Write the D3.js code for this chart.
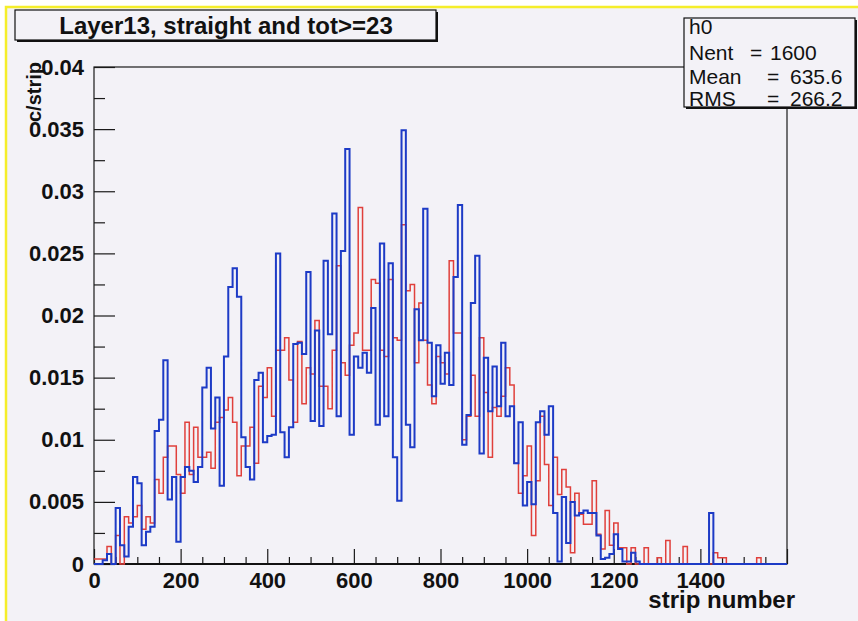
<!DOCTYPE html>
<html>
<head>
<meta charset="utf-8">
<script src="https://cdn.jsdelivr.net/npm/d3@7"></script>
<style>
	body { margin: 0; background: #ffffff; }
	svg { display: block; font-family: 'Liberation Sans', Arial, Helvetica, sans-serif; }
</style>
</head>
<body>
<div id="chart"></div>
<script>
// Histogram contents, 160 bins of 10 strips each (0 - 1600)
const binWidth = 10;
const xRange = [0, 1600];
const yRange = [0, 0.04];

// blue histogram
const blueCounts = [
	0, 0, 0.0003, 0.0008, 0, 0.0045, 0.0015, 0.0006, 0.003, 0.007,
	0.0065, 0.0015, 0.0026, 0.003, 0.0107, 0.0116, 0.0164, 0.0052, 0.007, 0.0018,
	0.007, 0.0078, 0.0075, 0.0066, 0.0078, 0.0142, 0.0158, 0.0109, 0.0134, 0.0063,
	0.0167, 0.0223, 0.0238, 0.0215, 0.0102, 0.0078, 0.0068, 0.0148, 0.0154, 0.0098,
	0.0103, 0.0104, 0.025, 0.0106, 0.0086, 0.011, 0.0177, 0.0178, 0.0169, 0.0235,
	0.0115, 0.0188, 0.0111, 0.0244, 0.0185, 0.0282, 0.0119, 0.0252, 0.0334, 0.0104,
	0.0167, 0.0158, 0.017, 0.0154, 0.0206, 0.0112, 0.0258, 0.0119, 0.0242, 0.0086,
	0.0051, 0.0349, 0.0112, 0.0094, 0.0205, 0.018, 0.0286, 0.0178, 0.0135, 0.0176,
	0.0145, 0.017, 0.0144, 0.0231, 0.0289, 0.0096, 0.012, 0.021, 0.0248, 0.0089,
	0.0166, 0.0123, 0.0159, 0.0127, 0.0178, 0.0119, 0.0127, 0.0081, 0.0114, 0.0047,
	0.0066, 0.0048, 0.0114, 0.0123, 0.0104, 0.0127, 0.0041, 0.0002, 0.0054, 0.0017,
	0.005, 0.0039, 0.0041, 0.0043, 0.0041, 0.0041, 0.0023, 0.0004, 0.0005, 0.0008,
	0.0024, 0.0012, 0.0002, 0.0002, 0.0009, 0.0002, 0, 0, 0, 0,
	0, 0, 0, 0, 0, 0, 0, 0, 0, 0,
	0, 0, 0.0041, 0, 0, 0, 0, 0, 0, 0,
	0, 0, 0, 0, 0, 0, 0, 0, 0, 0
];

// red histogram
const redCounts = [
	0.0004, 0.0004, 0.0004, 0.0014, 0, 0.0023, 0, 0.0038, 0.0033, 0.0038,
	0.0047, 0.0028, 0.0038, 0.0033, 0.0068, 0.0057, 0.0086, 0.0095, 0.0095, 0.0072,
	0.0057, 0.0114, 0.0072, 0.011, 0.0086, 0.0086, 0.009, 0.0077, 0.0114, 0.0118,
	0.0124, 0.0134, 0.0114, 0.0071, 0.0095, 0.0095, 0.011, 0.0081, 0.0143, 0.0134,
	0.0158, 0.0119, 0.0172, 0.0172, 0.0182, 0.0148, 0.0114, 0.0179, 0.0129, 0.0158,
	0.0153, 0.0196, 0.0143, 0.0143, 0.0125, 0.0172, 0.024, 0.0162, 0.0152, 0.0176,
	0.0186, 0.0287, 0.0172, 0.0172, 0.0229, 0.0226, 0.0172, 0.0167, 0.0229, 0.0182,
	0.018, 0.0273, 0.022, 0.0225, 0.0162, 0.021, 0.018, 0.0144, 0.0129, 0.0167,
	0.0162, 0.0153, 0.0244, 0.0186, 0.0186, 0.01, 0.0119, 0.0152, 0.0119, 0.0182,
	0.0138, 0.0086, 0.0126, 0.0119, 0.0135, 0.0158, 0.0144, 0.0081, 0.0057, 0.0071,
	0.0095, 0.0023, 0.0067, 0.0119, 0.008, 0.0047, 0.0086, 0.0056, 0.0076, 0.0062,
	0.0009, 0.0057, 0.004, 0.0032, 0.0032, 0.0067, 0.0024, 0.0012, 0.0043, 0.0015,
	0.0033, 0.0013, 0.0013, 0, 0.0013, 0, 0, 0.0013, 0, 0,
	0.0005, 0, 0.0019, 0, 0, 0, 0.0014, 0, 0, 0,
	0, 0, 0, 0.0009, 0.0005, 0.0005, 0, 0, 0, 0,
	0, 0, 0, 0.0005, 0, 0, 0, 0, 0, 0
];

// axis ticks
const xMajorTicks = [0, 200, 400, 600, 800, 1000, 1200, 1400, 1600];
const xLabelled = [0, 200, 400, 600, 800, 1000, 1200, 1400];
const yMajorTicks = [0, 0.005, 0.01, 0.015, 0.02, 0.025, 0.03, 0.035, 0.04];
const yLabels = ['0', '0.005', '0.01', '0.015', '0.02', '0.025', '0.03', '0.035', '0.04'];

// texts
const title = 'Layer13, straight and tot>=23';
const xTitle = 'strip number';
const yTitle = 'c/strip';
const statsName = 'h0';
const statsRows = [['Nent', '1600'], ['Mean', '635.6'], ['RMS', '266.2']];

// Chart dimensions
const width = 858;
const height = 621;
const marginTop = 67;
const marginRight = 71;
const marginBottom = 57;
const marginLeft = 94;
const bg = '#f3f2f7';
const blueColor = '#1d3bc6';
const redColor = '#e0403c';

const svg = d3.select('#chart')
	.append('svg')
	.attr('width', width)
	.attr('height', height);

// pad background with yellow border on top / left
svg.append('rect')
	.attr('x', 5).attr('y', 6)
	.attr('width', width - 5).attr('height', height - 6)
	.attr('fill', bg);
svg.append('path')
	.attr('d', `M6,${height} V7 H${width}`)
	.attr('fill', 'none')
	.attr('stroke', '#f5ee2a')
	.attr('stroke-width', 2.5);

const x = d3.scaleLinear().domain(xRange).range([marginLeft, width - marginRight]);
const y = d3.scaleLinear().domain(yRange).range([height - marginBottom, marginTop]);

// frame
svg.append('rect')
	.attr('x', x(xRange[0])).attr('y', y(yRange[1]))
	.attr('width', x(xRange[1]) - x(xRange[0]))
	.attr('height', y(yRange[0]) - y(yRange[1]))
	.attr('fill', bg)
	.attr('stroke', '#1a1a1a')
	.attr('stroke-width', 1.2);

// minor ticks
const xMinor = d3.range(xRange[0], xRange[1] + 1, 50).filter(v => v % 200 !== 0);
const yMinor = d3.range(0.0025, 0.04, 0.005);

svg.append('g')
	.attr('transform', `translate(0,${y(0)})`)
	.call(d3.axisBottom(x).tickValues(xMinor).tickSize(-7).tickFormat(''))
	.call(g => g.select('.domain').remove());

svg.append('g')
	.attr('transform', `translate(0,${y(0)})`)
	.call(d3.axisBottom(x).tickValues(xMajorTicks).tickSize(-15).tickPadding(8)
		.tickFormat(d => xLabelled.includes(d) ? String(d) : ''))
	.call(g => g.select('.domain').remove())
	.call(g => g.selectAll('text')
		.attr('fill', '#111')
		.style('font-size', '22px')
		.style('font-weight', 'bold'));

svg.append('g')
	.attr('transform', `translate(${x(0)},0)`)
	.call(d3.axisLeft(y).tickValues(yMinor).tickSize(-11).tickFormat(''))
	.call(g => g.select('.domain').remove());

svg.append('g')
	.attr('transform', `translate(${x(0)},0)`)
	.call(d3.axisLeft(y).tickValues(yMajorTicks).tickSize(-21).tickPadding(10)
		.tickFormat((d, i) => yLabels[i]))
	.call(g => g.select('.domain').remove())
	.call(g => g.selectAll('text')
		.attr('fill', '#111')
		.style('font-size', '22px')
		.style('font-weight', 'bold'));

svg.selectAll('.tick line').attr('stroke', '#1a1a1a').attr('stroke-width', 1.2);

// bottom axis line
svg.append('line')
	.attr('x1', x(xRange[0])).attr('x2', x(xRange[1]))
	.attr('y1', y(0)).attr('y2', y(0))
	.attr('stroke', '#111')
	.attr('stroke-width', 2);

// histograms as step outlines
const line = d3.line()
	.x(d => x(d[0]))
	.y(d => y(d[1]))
	.curve(d3.curveStepAfter);

function steps(counts) {
	let pts = counts.map((v, i) => [xRange[0] + i * binWidth, v]);
	pts.push([xRange[0] + counts.length * binWidth, counts[counts.length - 1]]);
	return pts;
}

svg.append('path')
	.datum(steps(redCounts))
	.attr('d', line)
	.attr('fill', 'none')
	.attr('stroke', redColor)
	.attr('stroke-width', 1.5);

svg.append('path')
	.datum(steps(blueCounts))
	.attr('d', line)
	.attr('fill', 'none')
	.attr('stroke', blueColor)
	.attr('stroke-width', 2);

// axis titles
svg.append('text')
	.attr('x', x(xRange[1]) + 8)
	.attr('y', 608)
	.attr('text-anchor', 'end')
	.style('font-size', '24px')
	.style('font-weight', 'bold')
	.attr('fill', '#111')
	.text(xTitle);

svg.append('text')
	.attr('transform', 'translate(41,62) rotate(-90)')
	.attr('text-anchor', 'end')
	.style('font-size', '20px')
	.style('font-weight', 'bold')
	.attr('fill', '#111')
	.text(yTitle);

// title box with shadow
function shadowBox(bx, by, bw, bh) {
	svg.append('rect')
		.attr('x', bx + 2).attr('y', by + 2)
		.attr('width', bw).attr('height', bh)
		.attr('fill', '#111');
	svg.append('rect')
		.attr('x', bx).attr('y', by)
		.attr('width', bw).attr('height', bh)
		.attr('fill', bg)
		.attr('stroke', '#111')
		.attr('stroke-width', 1.2);
}

shadowBox(15, 10, 421, 30);
svg.append('text')
	.attr('x', 226)
	.attr('y', 34)
	.attr('text-anchor', 'middle')
	.style('font-size', '24px')
	.style('font-weight', 'bold')
	.attr('fill', '#111')
	.text(title);

// stats box
shadowBox(684, 18, 171, 89);
const stats = svg.append('g')
	.style('font-size', '21px')
	.attr('fill', '#111');

stats.append('text').attr('x', 689).attr('y', 34).text(statsName);
const rowY = [60, 84, 106];
const eqX = [750, 767, 767];
const valX = [770, 790, 790];
statsRows.forEach((r, i) => {
	stats.append('text').attr('x', 689).attr('y', rowY[i]).text(r[0]);
	stats.append('text').attr('x', eqX[i]).attr('y', rowY[i]).text('=');
	stats.append('text').attr('x', valX[i]).attr('y', rowY[i]).text(r[1]);
});
</script>
</body>
</html>
